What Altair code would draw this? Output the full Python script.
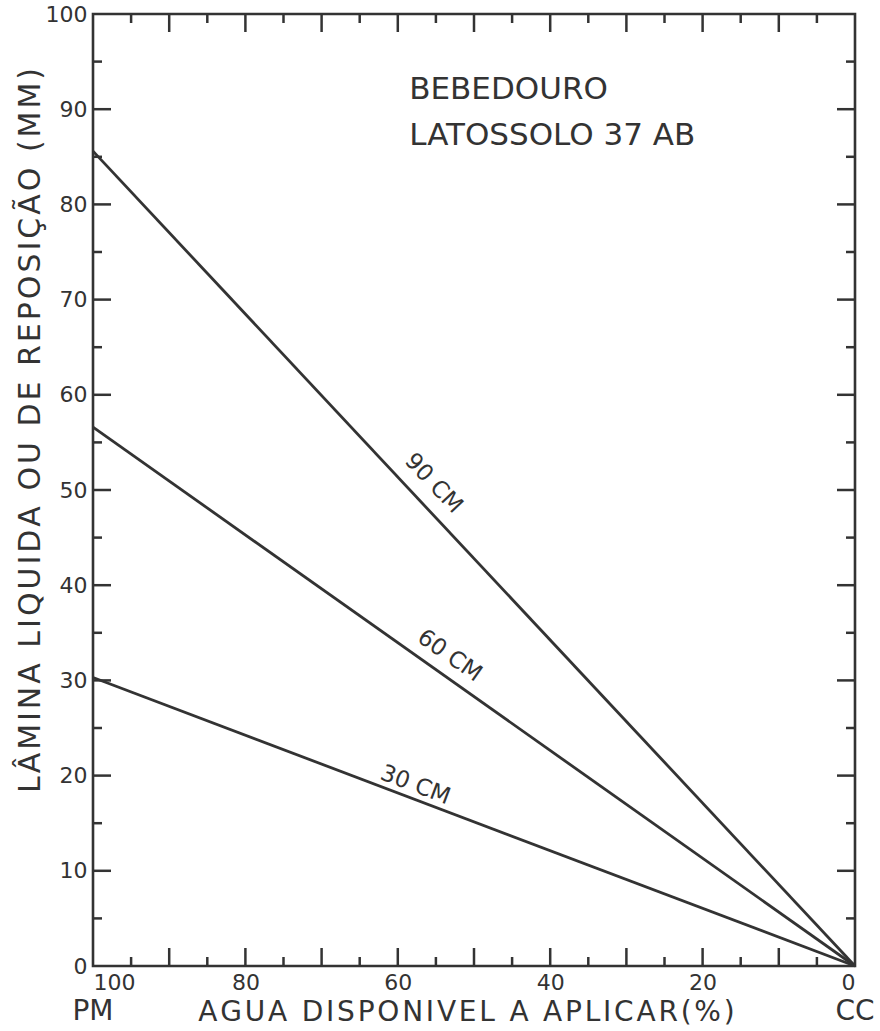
import altair as alt
import pandas as pd

# ---- data ----
depths = ["90 CM", "60 CM", "30 CM"]
lamina_at_pm = [85.6, 56.6, 30.3]   # mm at 100 % (PM)
lamina_at_cc = [0.0, 0.0, 0.0]      # mm at 0 % (CC)
agua_pm = 100
agua_cc = 0

label_text = ["90 CM", "60 CM", "30 CM"]
label_x = [55.3, 53.2, 57.7]
label_y = [50.7, 32.6, 19.0]
label_angle = [46.8, 35.3, 20.7]

x_major = [90, 80, 70, 60, 50, 40, 30, 20, 10]
x_minor = [95, 85, 75, 65, 55, 45, 35, 25, 15, 5]
y_major = [10, 20, 30, 40, 50, 60, 70, 80, 90]
y_minor = [5, 15, 25, 35, 45, 55, 65, 75, 85, 95]
x_labels = [100, 80, 60, 40, 20, 0]
y_labels = [0, 10, 20, 30, 40, 50, 60, 70, 80, 90, 100]

title_lines = ["BEBEDOURO", "LATOSSOLO 37 AB"]
title_x = [58.5, 58.5]
title_y = [92.0, 87.2]

end_text = ["PM", "CC"]
end_x = [agua_pm, agua_cc]

x_title = "AGUA DISPONIVEL A APLICAR(%)"
y_title = "LÂMINA LIQUIDA OU DE REPOSIÇÃO (MM)"

INK = "#333333"
FONT = "DejaVu Sans"
W, H = 762, 952
HAIR = "\u200a"


def spaced(s):
    return HAIR.join(list(s))


rows = []
for d, a, b in zip(depths, lamina_at_pm, lamina_at_cc):
    rows.append({"depth": d, "agua": agua_pm, "lamina": a})
    rows.append({"depth": d, "agua": agua_cc, "lamina": b})
lines_df = pd.DataFrame(rows)

xs = alt.Scale(domain=[100, 0], nice=False, zero=False)
ys = alt.Scale(domain=[0, 100], nice=False, zero=False)

xaxis = alt.Axis(values=x_labels, ticks=False, domain=False, grid=False,
                 labelFontSize=22, labelFont=FONT, labelColor=INK, labelPadding=6,
                 title=spaced(x_title), titleFont=FONT,
                 titleFontSize=28, titleFontWeight="normal", titleColor=INK,
                 titleX=373, titleY=46, titleBaseline="middle", titleAlign="center")
yaxis = alt.Axis(values=y_labels, ticks=False, domain=False, grid=False,
                 labelFontSize=22, labelFont=FONT, labelColor=INK, labelPadding=6,
                 title=spaced(y_title), titleFont=FONT,
                 titleFontSize=30, titleFontWeight="normal", titleColor=INK,
                 titleX=-63, titleY=416, titleBaseline="middle", titleAlign="center",
                 titleAngle=270)

lines = alt.Chart(lines_df).mark_line(color=INK, strokeWidth=2.8).encode(
    x=alt.X("agua:Q", scale=xs, axis=xaxis),
    y=alt.Y("lamina:Q", scale=ys, axis=yaxis),
    detail="depth:N",
)

lab_df = pd.DataFrame({"t": label_text, "x": label_x, "y": label_y})
labels = alt.layer(*[
    alt.Chart(lab_df.iloc[[i]]).mark_text(font=FONT, fontSize=23, color=INK,
                                          angle=float(label_angle[i])).encode(
        x=alt.X("x:Q", scale=xs), y=alt.Y("y:Q", scale=ys), text="t:N")
    for i in range(len(label_text))
])

tdf = pd.DataFrame({"t": title_lines, "x": title_x, "y": title_y})
titles = alt.Chart(tdf).mark_text(font=FONT, fontSize=31, color=INK, align="left").encode(
    x=alt.X("x:Q", scale=xs), y=alt.Y("y:Q", scale=ys), text="t:N")

edf = pd.DataFrame({"t": end_text, "x": end_x})
ends = alt.Chart(edf).mark_text(font=FONT, fontSize=28, color=INK).encode(
    x=alt.X("x:Q", scale=xs), y=alt.value(H + 46), text="t:N")


def xt(vals, y0, y1):
    return alt.Chart(pd.DataFrame({"v": vals})).mark_rule(color=INK, strokeWidth=2.5).encode(
        x=alt.X("v:Q", scale=xs), y=alt.value(y0), y2=alt.value(y1))


def yt(vals, x0, x1):
    return alt.Chart(pd.DataFrame({"v": vals})).mark_rule(color=INK, strokeWidth=2.5).encode(
        y=alt.Y("v:Q", scale=ys), x=alt.value(x0), x2=alt.value(x1))


MAJ, MIN = 18, 9
ticks = [
    xt(x_major, H, H - MAJ), xt(x_minor, H, H - MIN),
    xt(x_major, 0, MAJ), xt(x_minor, 0, MIN),
    yt(y_major, 0, MAJ), yt(y_minor, 0, MIN),
    yt(y_major, W, W - MAJ), yt(y_minor, W, W - MIN),
]

chart = alt.layer(lines, *ticks, labels, titles, ends).properties(
    width=W, height=H,
    autosize=alt.AutoSizeParams(type="none"),
    padding={"left": 93, "top": 14, "right": 25, "bottom": 65},
    background="white",
).configure_view(stroke=INK, strokeWidth=2.6)

chart.save("out.html", embed_options={"renderer": "svg", "actions": False})
